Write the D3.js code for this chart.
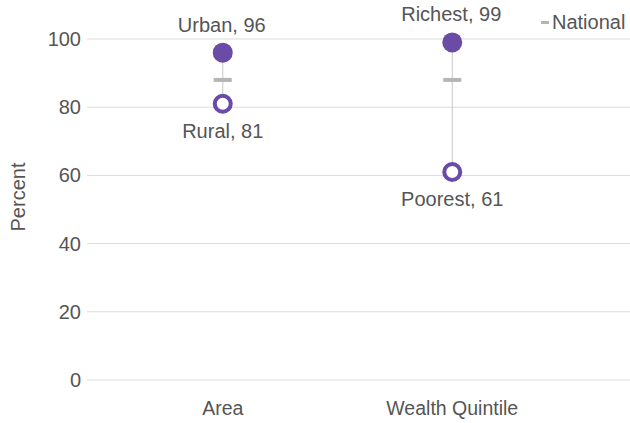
<!DOCTYPE html>
<html>
<head>
<meta charset="utf-8">
<script src="https://cdn.jsdelivr.net/npm/d3@7"></script>
<style>
  body { margin: 0; background: #fff; }
  text { font-family: "Liberation Sans", Arial, sans-serif; fill: #555; }
</style>
</head>
<body>
<script>
var width = 630,
    height = 423;

// data
var categories = ["Area", "Wealth Quintile"];
var highLabels = ["Urban", "Richest"];
var highValues = [96, 99];
var lowLabels = ["Rural", "Poorest"];
var lowValues = [81, 61];
var nationalValues = [88, 88];
var yTicks = [0, 20, 40, 60, 80, 100];

var purple = "#6a4ca6";
var fs = "20px";

var svg = d3.select("body").append("svg")
    .attr("width", width)
    .attr("height", height);

var x = d3.scaleBand()
    .domain(categories)
    .range([108, 567]);

var y = d3.scaleLinear()
    .domain([0, 100])
    .range([380, 39]);

// gridlines
svg.append("g")
  .selectAll("line")
  .data(yTicks)
  .enter().append("line")
    .attr("x1", 87)
    .attr("x2", width)
    .attr("y1", function(d) { return y(d); })
    .attr("y2", function(d) { return y(d); })
    .attr("stroke", "#dcdcdc")
    .attr("stroke-width", 1);

// y axis tick labels
var yAxis = d3.axisLeft(y).tickValues(yTicks).tickSize(0).tickPadding(0);
var gy = svg.append("g")
    .attr("transform", "translate(81,0)")
    .call(yAxis);
gy.select(".domain").remove();
gy.selectAll("text")
    .style("font-size", fs)
    .attr("fill", "#555");

// x axis labels
var xAxis = d3.axisBottom(x).tickSize(0).tickPadding(0);
var gx = svg.append("g")
    .attr("transform", "translate(0,401)")
    .call(xAxis);
gx.select(".domain").remove();
gx.selectAll("text")
    .style("font-size", "19.5px")
    .attr("fill", "#555");

svg.append("text")
    .attr("transform", "translate(25,197)rotate(-90)")
    .attr("text-anchor", "middle")
    .style("font-size", fs)
    .text("Percent");

var cx = function(i) { return x(categories[i]) + x.bandwidth() / 2; };

var g = svg.append("g");

categories.forEach(function(c, i) {
  // connector
  g.append("line")
      .attr("x1", cx(i)).attr("x2", cx(i))
      .attr("y1", y(highValues[i])).attr("y2", y(lowValues[i]))
      .attr("stroke", "#c8c8c8")
      .attr("stroke-width", 1);

  // national marker
  g.append("rect")
      .attr("x", cx(i) - 9)
      .attr("y", y(nationalValues[i]) - 2)
      .attr("width", 18)
      .attr("height", 4)
      .attr("fill", "#b5b5b5");

  // high
  g.append("circle")
      .attr("cx", cx(i))
      .attr("cy", y(highValues[i]))
      .attr("r", 10)
      .attr("fill", purple);

  // low
  g.append("circle")
      .attr("cx", cx(i))
      .attr("cy", y(lowValues[i]))
      .attr("r", 8)
      .attr("fill", "#fff")
      .attr("stroke", purple)
      .attr("stroke-width", 4);

  g.append("text")
      .attr("x", cx(i) - 1)
      .attr("y", y(highValues[i]) - 21)
      .attr("text-anchor", "middle")
      .style("font-size", fs)
      .text(highLabels[i] + ", " + highValues[i]);

  g.append("text")
      .attr("x", cx(i))
      .attr("y", y(lowValues[i]) + 34)
      .attr("text-anchor", "middle")
      .style("font-size", fs)
      .text(lowLabels[i] + ", " + lowValues[i]);
});

// legend
svg.append("rect")
    .attr("x", 541)
    .attr("y", 21)
    .attr("width", 8)
    .attr("height", 3)
    .attr("fill", "#b5b5b5");
svg.append("text")
    .attr("x", 552)
    .attr("y", 29)
    .style("font-size", fs)
    .text("National");
</script>
</body>
</html>
